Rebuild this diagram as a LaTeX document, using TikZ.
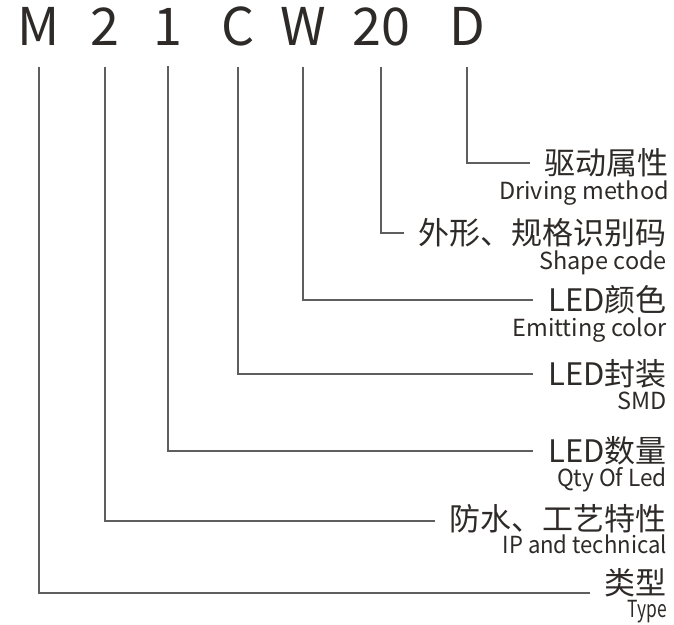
\documentclass[tikz,border=0pt]{standalone}
\usepackage{fontspec}
\setmainfont{Noto Sans CJK SC}
\usetikzlibrary{positioning}
\definecolor{inkText}{HTML}{2E2A28}
\definecolor{inkLine}{HTML}{5E5E5E}

\begin{document}
\begin{tikzpicture}[x=1pt, y=-1pt, node distance=2pt]

    \tikzset{
        codeLetter/.style={inner sep=0pt, text=inkText, font=\fontsize{52}{52}\selectfont},
        titleText/.style={inner sep=0pt, anchor=east, text=inkText, font=\fontsize{31}{31}\selectfont},
        subText/.style={inner sep=0pt, text=inkText, font=\fontsize{23.5}{24}\selectfont},
        leader/.style={draw=inkLine, line width=1.1pt, shorten <=21pt, shorten >=15pt}
    }

    \useasboundingbox (0,0) rectangle (674,624);

    % Code letters
    \node[codeLetter] (cM)  at (39,26.5)  {M};
    \node[codeLetter] (c2)  at (105,26.5) {2};
    \node[codeLetter] (c1)  at (168,26.5) {1};
    \node[codeLetter] (cC)  at (238,26.5) {C};
    \node[codeLetter] (cW)  at (303,26.5) {W};
    \node[codeLetter] (c20) at (381,26.5) {20};
    \node[codeLetter] (cD)  at (467,26.5) {D};

    % Meanings
    \node[titleText] (tD)  at (669,163) {驱动属性};
    \node[subText, below left=3pt and 0pt of tD.south east] (sD) {Driving method};

    \node[titleText] (t20) at (667,233) {外形、规格识别码};
    \node[subText, below left=3pt and 0pt of t20.south east] (s20) {Shape code};

    \node[titleText] (tW)  at (667,300) {LED颜色};
    \node[subText, below left=3pt and 0pt of tW.south east] (sW) {Emitting color};

    \node[titleText] (tC)  at (667,374) {LED封装};
    \node[subText, below left=3pt and 0pt of tC.south east] (sC) {SMD};

    \node[titleText] (t1)  at (667,451) {LED数量};
    \node[subText, below left=2pt and 0pt of t1.south east] (s1) {\scalebox{0.96}[1]{Qty Of Led}};

    \node[titleText] (t2)  at (667,519) {防水、工艺特性};
    \node[subText, below left=1.5pt and 0pt of t2.south east] (s2) {\scalebox{0.94}[1]{IP and technical}};

    \node[titleText] (tM)  at (667,583) {类型};
    \node[subText, below left=3pt and 0pt of tM.south east] (sM) {\scalebox{0.74}[1]{Type}};

    % Leader lines
    \draw[leader] (cD)  |- (tD.west);
    \draw[leader] (c20) |- (t20.west);
    \draw[leader] (cW)  |- (tW.west);
    \draw[leader] (cC)  |- (tC.west);
    \draw[leader] (c1)  |- (t1.west);
    \draw[leader] (c2)  |- ([yshift=-2pt]t2.west);
    \draw[leader] (cM)  |- ([yshift=-10pt]tM.west);

\end{tikzpicture}
\end{document}
